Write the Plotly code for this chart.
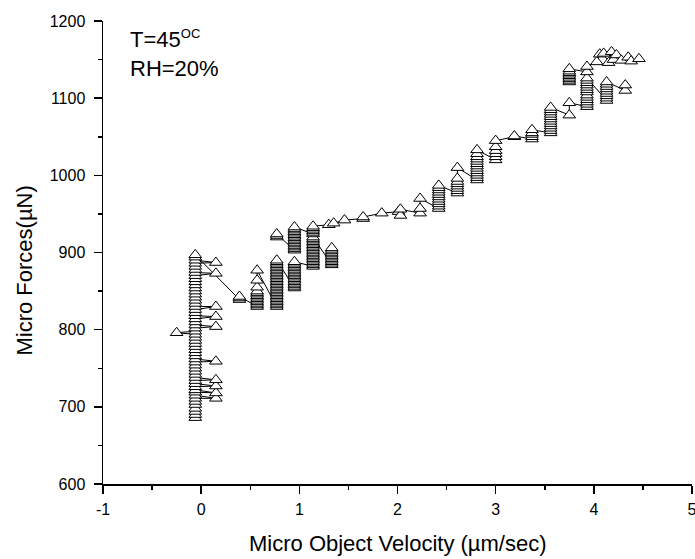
import plotly.graph_objects as go

# ---- data (velocity in um/sec, force in uN), in recording order; None = pen lifted ----
v_static = [-0.06, -0.06, -0.06, -0.06, -0.06, -0.06, -0.06, 0.15, -0.06, -0.06, 0.15,
            -0.06, -0.06, 0.15, -0.06, -0.06, 0.15, -0.06, -0.06, -0.06, -0.06, -0.06,
            -0.06, 0.15, -0.06, -0.06, -0.06, -0.06, -0.06, -0.06, -0.06, -0.06, -0.06,
            -0.25, -0.06, -0.06, 0.15, -0.06, -0.06, -0.06, 0.15, -0.06, -0.06, -0.06,
            0.15, -0.06, -0.06, -0.06, -0.06, -0.06, -0.06, -0.06, -0.06, -0.06, -0.06,
            -0.06, 0.15, -0.06, -0.06, -0.06, -0.06, 0.15, -0.06, -0.06, -0.06]
f_static = [686, 690, 694, 698, 703, 707, 711, 711, 715, 719, 718,
            722, 726, 727, 730, 734, 735, 738, 742, 746, 750, 754,
            758, 759, 762, 766, 770, 774, 778, 782, 786, 790, 794,
            796, 798, 802, 804, 806, 810, 814, 817, 818, 822, 826,
            830, 830, 834, 838, 842, 846, 850, 854, 858, 862, 866,
            870, 873, 874, 878, 882, 886, 887, 890, 894, 897]

v_transit_a = [0.39, 0.39, 0.39,
               0.57, 0.57, 0.57, 0.57, 0.57, 0.57, 0.57, 0.57, 0.57, 0.57, 0.57, 0.57, 0.57, 0.57,
               0.77, 0.77, 0.77, 0.77, 0.77, 0.77, 0.77, 0.77, 0.77, 0.77, 0.77,
               0.77, 0.77, 0.77, 0.77, 0.77, 0.77, 0.77, 0.77, 0.77, 0.77,
               0.77, 0.77, 0.77, 0.77, 0.77, 0.77, 0.77, 0.77, 0.77, 0.77,
               0.95, 0.95, 0.95, 0.95, 0.95, 0.95, 0.95, 0.95, 0.95,
               0.95, 0.95, 0.95, 0.95, 0.95, 0.95, 0.95, 0.95, 0.95,
               1.14, 1.14, 1.14, 1.14, 1.14, 1.14, 1.14, 1.14, 1.14, 1.14,
               1.14, 1.14, 1.14, 1.14, 1.14, 1.14, 1.14, 1.14, 1.14, 1.14,
               1.33, 1.33, 1.33, 1.33, 1.33, 1.33, 1.33, 1.33, 1.33, 1.33, 1.33, 1.33,
               None]
f_transit_a = [839, 841, 843,
               830, 832, 834, 836, 838, 840, 842, 844, 846, 848, 850, 855, 864, 877,
               830, 832, 834, 836, 838, 840, 842, 844, 846, 848, 850,
               852, 854, 856, 858, 860, 862, 864, 866, 868, 870,
               872, 874, 876, 878, 880, 882, 884, 886, 888, 890,
               854, 856, 858, 860, 862, 864, 866, 868, 870,
               872, 874, 876, 878, 880, 882, 884, 886, 888,
               882, 884, 886, 888, 890, 892, 894, 896, 898, 900,
               902, 904, 906, 908, 910, 912, 914, 916, 918, 920,
               884, 886, 888, 890, 892, 894, 896, 898, 900, 902, 904, 906,
               None]

v_transit_b = [0.77, 0.77, 0.77,
               0.95, 0.95, 0.95, 0.95, 0.95, 0.95, 0.95, 0.95,
               0.95, 0.95, 0.95, 0.95, 0.95, 0.95, 0.95, 0.95,
               1.14, 1.14, 1.14, 1.14, 1.14, 1.14,
               1.30, 1.35]
f_transit_b = [920, 922, 924,
               903, 905, 907, 909, 911, 913, 915, 917,
               919, 921, 923, 925, 927, 929, 931, 933,
               924, 926, 928, 930, 932, 934,
               936, 938]

v_rise = [1.46, 1.65, 1.65, 1.84, 2.01, 2.03, 2.03,
          2.23, 2.23, 2.23,
          2.42, 2.42, 2.42, 2.42, 2.42, 2.42, 2.42, 2.42, 2.42, 2.42, 2.42,
          2.61, 2.61, 2.61, 2.61, 2.61, 2.61, 2.61, 2.61,
          2.81, 2.81, 2.81, 2.81, 2.81, 2.81, 2.81, 2.81, 2.81, 2.81, 2.81, 2.81, 2.81,
          3.00, 3.00, 3.00, 3.00, 3.00, 3.00,
          3.19, 3.19,
          3.37, 3.37, 3.37, 3.37, 3.37,
          3.56, 3.56, 3.56, 3.56, 3.56, 3.56, 3.56, 3.56, 3.56, 3.56, 3.56, 3.56]
f_rise = [942, 944, 946, 951, 953, 948, 956,
          951, 957, 970,
          957, 960, 963, 966, 969, 972, 975, 978, 981, 984, 987,
          977, 980, 983, 986, 989, 992, 996, 1010,
          994, 997, 1000, 1003, 1006, 1009, 1012, 1015, 1018, 1021, 1024, 1028, 1033,
          1020, 1024, 1028, 1032, 1037, 1045,
          1050, 1051,
          1047, 1050, 1053, 1055, 1059,
          1055, 1058, 1061, 1064, 1067, 1070, 1073, 1076, 1079, 1082, 1085, 1088]

v_top_a = [3.75, 3.75,
           3.93, 3.93, 3.93, 3.93, 3.93, 3.93,
           3.93, 3.93, 3.93, 3.93, 3.93, 3.93, 3.93,
           4.13, 4.13, 4.13, 4.13, 4.13, 4.13, 4.13, 4.13, 4.13,
           4.32, 4.32,
           None]
f_top_a = [1078, 1094,
           1089, 1092, 1095, 1098, 1101, 1104,
           1108, 1111, 1114, 1117, 1120, 1123, 1126,
           1097, 1100, 1103, 1106, 1109, 1112, 1115, 1118, 1121,
           1110, 1117,
           None]

v_top_b = [3.75, 3.75, 3.75, 3.75, 3.75, 3.75, 3.75, 3.75, 3.75,
           3.93, 3.93,
           4.03, 4.06, 4.10, 4.15, 4.18, 4.20, 4.23, 4.28, 4.35, 4.38, 4.46]
f_top_b = [1121, 1123, 1125, 1127, 1129, 1131, 1133, 1135, 1138,
           1134, 1141,
           1147, 1157, 1158, 1146, 1160, 1150, 1156, 1149, 1153, 1148, 1151]

velocity = v_static + v_transit_a + v_transit_b + v_rise + v_top_a + v_top_b
force = f_static + f_transit_a + f_transit_b + f_rise + f_top_a + f_top_b

x_ticks = [-1, 0, 1, 2, 3, 4, 5]
y_ticks = [600, 700, 800, 900, 1000, 1100, 1200]

FONT = "Liberation Sans, Arial, sans-serif"

fig = go.Figure()
fig.add_trace(go.Scatter(
    x=velocity, y=force, mode="lines+markers", connectgaps=False,
    line=dict(color="black", width=1),
    marker=dict(symbol="triangle-up", size=11, color="white",
                line=dict(color="black", width=1)),
    showlegend=False, cliponaxis=False, hoverinfo="skip",
))

axis_common = dict(
    showline=True, linecolor="black", linewidth=1.5,
    ticks="outside", ticklen=8, tickwidth=1.5, tickcolor="black",
    showgrid=False, zeroline=False, mirror=False,
    tickfont=dict(family=FONT, size=16, color="black"),
    ticklabeloverflow="allow", automargin=False,
)

fig.update_xaxes(
    range=[-1, 5], tickvals=x_ticks, ticktext=[str(t) for t in x_ticks],
    minor=dict(ticks="outside", ticklen=4, tickwidth=1.5, tickcolor="black", dtick=0.5, tick0=-1),
    ticklabelstandoff=2, **axis_common)
fig.update_yaxes(
    range=[600, 1200], tickvals=y_ticks, ticktext=[str(t) for t in y_ticks],
    minor=dict(ticks="outside", ticklen=4, tickwidth=1.5, tickcolor="black", dtick=50, tick0=600),
    ticklabelstandoff=5, **axis_common)

# axis titles
fig.add_annotation(
    xref="paper", yref="paper", x=0.5, y=-0.128, xanchor="center", yanchor="middle",
    text="Micro Object Velocity (µm/sec)", showarrow=False,
    font=dict(family=FONT, size=22, color="black"))
fig.add_annotation(
    xref="paper", yref="paper", x=-0.1334, y=0.462, xanchor="center", yanchor="middle",
    text="Micro Forces(µN)", showarrow=False, textangle=-90,
    font=dict(family=FONT, size=22, color="black"))

# condition label
fig.add_annotation(
    xref="paper", yref="paper", x=0.042, y=0.9935, xanchor="left", yanchor="top",
    text="T=45<sup><span style='font-size:13px'>OC</span></sup><br>RH=20%",
    showarrow=False, align="left",
    font=dict(family=FONT, size=22, color="black"))

fig.update_layout(
    width=695, height=559,
    margin=dict(l=103, r=3, t=21, b=75, pad=0),
    paper_bgcolor="white", plot_bgcolor="white",
    font=dict(family=FONT, color="black"),
    hovermode=False,
)

fig.write_html("out.html",
               config={"displayModeBar": False, "staticPlot": True},
               post_script="document.body.style.margin='0';document.body.style.overflow='hidden';")
